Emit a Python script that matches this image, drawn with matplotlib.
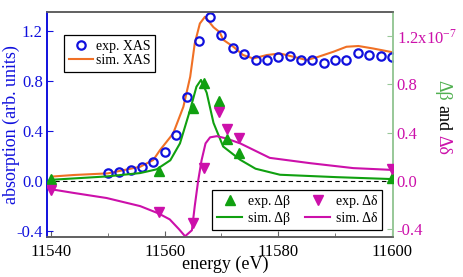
import matplotlib
matplotlib.use("Agg")
import matplotlib.pyplot as plt
from matplotlib.ticker import MultipleLocator, FixedLocator, FixedFormatter

plt.rcParams['font.family'] = ['Liberation Serif', 'DejaVu Serif']
plt.rcParams['mathtext.fontset'] = 'stix'

# ---- data ----
exp_xas_e = [11550, 11552, 11554, 11556, 11558, 11560, 11562, 11564, 11566, 11568,
             11570, 11572, 11574, 11576, 11578, 11580, 11582, 11584, 11586, 11588,
             11590, 11592, 11594, 11596, 11598, 11600]
exp_xas_v = [0.066, 0.074, 0.088, 0.114, 0.152, 0.232, 0.368, 0.674, 1.122, 1.314,
             1.168, 1.068, 1.013, 0.968, 0.968, 0.990, 1.000, 0.968, 0.968, 0.946,
             0.968, 0.968, 1.026, 1.008, 1.000, 0.990]

sim_xas_e = [11540, 11544, 11550, 11555.7, 11558, 11559.2, 11561.5, 11563.3, 11564.5,
             11565.3, 11566.2, 11567.1, 11568.6, 11569.7, 11570.3, 11572.1, 11573.8,
             11575.6, 11578, 11580.3, 11582.1, 11585, 11586.8, 11589.7, 11592, 11594.1,
             11596.7, 11600.1]
sim_xas_v = [0.035, 0.048, 0.061, 0.114, 0.168, 0.248, 0.38, 0.594, 0.834,
             1.10, 1.26, 1.314, 1.23, 1.19, 1.13, 1.074, 1.008,
             0.98, 1.008, 1.02, 1.0, 0.968, 0.99, 1.034, 1.074, 1.08,
             1.06, 1.03]

exp_d_e = [11540, 11559, 11565, 11567, 11569.5, 11571, 11573, 11600]
exp_beta = [0.014, 0.08, 0.60, 0.81, 0.66, 0.35, 0.23, 0.02]
exp_delta = [-0.075, -0.26, -0.35, 0.11, 0.57, 0.43, 0.355, 0.095]

sim_beta_e = [11540, 11549.8, 11555.7, 11558.6, 11561, 11562.7, 11564.5, 11565.6,
              11566.4, 11567.4, 11568.6, 11570.3, 11573.3, 11576, 11580.3, 11590.3,
              11600.1]
sim_beta_v = [0.008, 0.036, 0.064, 0.095, 0.17, 0.31, 0.59, 0.78,
              0.836, 0.73, 0.48, 0.284, 0.174, 0.10, 0.05, 0.03,
              0.014]

sim_delta_e = [11540, 11543.9, 11549.8, 11555.7, 11558.9, 11560.9, 11562.5, 11563.6,
               11564.8, 11565.3, 11565.9, 11566.5, 11567.2, 11568, 11569.2, 11570.9,
               11573.3, 11578.5, 11585.6, 11593.2, 11600.1]
sim_delta_v = [-0.07, -0.10, -0.143, -0.21, -0.27, -0.32, -0.40, -0.46,
               -0.41, -0.21, 0.0, 0.17, 0.31, 0.36, 0.37, 0.35,
               0.31, 0.19, 0.146, 0.105, 0.09]

left_ticks = [-0.4, 0.0, 0.4, 0.8, 1.2]
left_labels = ['-0.4', '0.0', '0.4', '0.8', '1.2']
right_ticks = [-0.4, 0.0, 0.4, 0.8, 1.2]
right_labels = ['-0.4', '0.0', '0.4', '0.8', r'1.2x10$^{\mathregular{-7}}$']
x_ticks = [11540, 11560, 11580, 11600]

# ---- colours ----
BLUE = '#1010dd'
ORANGE = '#f07025'
GREEN = '#10a010'
LABEL_GREEN = '#50b050'
MAGENTA = '#cc10aa'
SPINE_GREEN = '#98c898'
GRAY = '#606060'

fig = plt.figure(figsize=(4.63, 2.77), dpi=100)
ax = fig.add_axes([47/463, 40/277, 345.5/463, 225/277])
ax2 = ax.twinx()

ax.axhline(0, color='black', ls=(0, (4, 3)), lw=0.8, zorder=1)
ax.plot(exp_xas_e, exp_xas_v, 'o', mfc='none', mec=BLUE, mew=1.6, ms=6, label='exp. XAS', zorder=3)
ax.plot(sim_xas_e, sim_xas_v, '-', color=ORANGE, lw=1.5, label='sim. XAS', zorder=2)

ax2.plot(exp_d_e, exp_beta, '^', color=GREEN, ms=7, ls='none', label='exp. Δβ', zorder=3)
ax2.plot(sim_beta_e, sim_beta_v, '-', color=GREEN, lw=1.5, label='sim. Δβ', zorder=2)
ax2.plot(exp_d_e, exp_delta, 'v', color=MAGENTA, ms=7, ls='none', label='exp. Δδ', zorder=3)
ax2.plot(sim_delta_e, sim_delta_v, '-', color=MAGENTA, lw=1.5, label='sim. Δδ', zorder=2)

ax.set_xlim(11539.3, 11600.1)
ax.set_ylim(-0.448, 1.352)
ax2.set_ylim(-0.466, 1.399)

ax.xaxis.set_major_locator(FixedLocator(x_ticks))
ax.xaxis.set_minor_locator(MultipleLocator(10))
ax.set_xticklabels([str(t) for t in x_ticks])
ax.yaxis.set_major_locator(FixedLocator(left_ticks))
ax.yaxis.set_major_formatter(FixedFormatter(left_labels))
ax2.yaxis.set_major_locator(FixedLocator(right_ticks))
ax2.yaxis.set_major_formatter(FixedFormatter(right_labels))

ax.tick_params(axis='x', which='both', direction='in', top=False, labelsize=12, color=GRAY, pad=5)
ax.tick_params(axis='x', which='major', length=4)
ax.tick_params(axis='x', which='minor', length=3)
ax.tick_params(axis='y', direction='in', colors=BLUE, labelsize=12, length=4, pad=3)
ax2.tick_params(axis='y', direction='in', colors=MAGENTA, labelsize=12, length=4, pad=3)
ax2.tick_params(axis='y', color=SPINE_GREEN)

for a in (ax, ax2):
    a.spines['top'].set_color(GRAY)
    a.spines['bottom'].set_color(GRAY)
    a.spines['left'].set_color(BLUE)
    a.spines['right'].set_color(SPINE_GREEN)
    for s in a.spines.values():
        s.set_linewidth(1.2)

ax.set_xlabel('energy (eV)', fontsize=13)
ax.xaxis.set_label_coords(0.515, -0.082)
ax.set_ylabel('absorption (arb. units)', fontsize=13, color=BLUE)
ax.yaxis.set_label_coords(-0.078, 0.5)

# right y label with coloured parts
ax2.text(1.146, 0.653, 'Δβ', transform=ax2.transAxes, rotation=270,
         ha='center', va='center', fontsize=13, color=LABEL_GREEN)
ax2.text(1.146, 0.531, 'and', transform=ax2.transAxes, rotation=270,
         ha='center', va='center', fontsize=13, color='black')
ax2.text(1.146, 0.409, 'Δδ', transform=ax2.transAxes, rotation=270,
         ha='center', va='center', fontsize=13, color=MAGENTA)

leg1 = ax.legend(loc='upper left', bbox_to_anchor=(0.049, 0.898), fontsize=10, frameon=True,
                 fancybox=False, edgecolor='black', framealpha=1, borderpad=0.35,
                 handlelength=1.75, handletextpad=0.2, labelspacing=0.1, borderaxespad=0)
leg1.get_frame().set_linewidth(0.9)
leg1.set_zorder(10)

leg2 = ax2.legend(loc='lower right', bbox_to_anchor=(0.9696, 0.031), ncol=2, fontsize=10,
                  frameon=True, fancybox=False, edgecolor='black', framealpha=1,
                  borderpad=0.35, handlelength=1.8, handletextpad=0.4, labelspacing=0.3,
                  columnspacing=1.1, borderaxespad=0)
leg2.get_frame().set_linewidth(0.9)

fig.savefig('out.png', dpi=100)
